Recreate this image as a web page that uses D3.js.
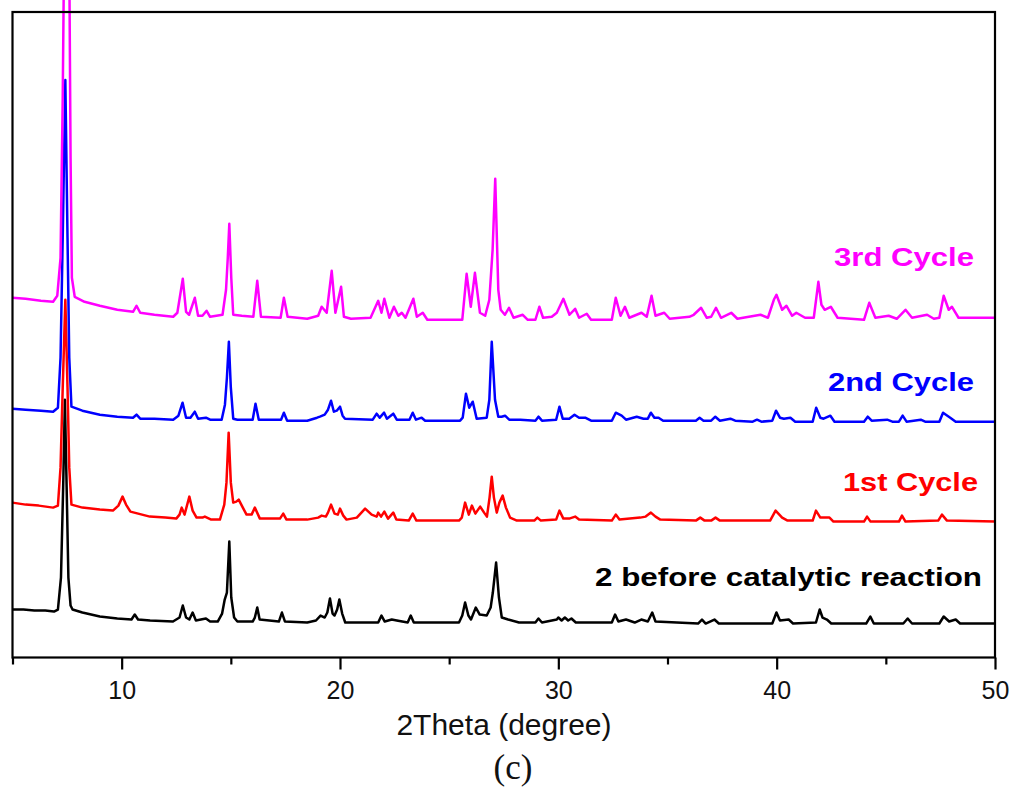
<!DOCTYPE html>
<html>
<head>
<meta charset="utf-8">
<script src="https://cdn.jsdelivr.net/npm/d3@7"></script>
<style>
  html, body { margin: 0; padding: 0; background: #fff; }
  svg { display: block; }
</style>
</head>
<body>
<svg id="chart" width="1013" height="791"></svg>
<script>
// XRD patterns: [2θ (degree), stacked intensity (a.u.)]
const pattern2 = [
  [5.0,48],[5.5,48],[6.0,47],[6.5,47],[6.9,46],[7.08,48],[7.22,80],[7.32,170],[7.40,258],[7.48,170],[7.56,80],[7.66,52],[7.75,48],
  [8.2,45],[9.0,41],[9.8,39],[10.45,38],[10.6,43],[10.75,38],[11.3,37],[12.35,36],[12.65,40],[12.8,52],[12.95,40],[13.1,38],
  [13.25,45],[13.4,37],[13.86,39],[14.05,36],[14.4,36],[14.6,44],[14.72,58],[14.82,65],[14.93,116],[15.02,60],[15.15,40],[15.3,36],
  [16.0,36],[16.1,40],[16.21,50],[16.32,38],[17.2,36],[17.34,45],[17.48,36],[18.5,35],[18.9,37],[19.11,42],[19.3,40],[19.42,45],
  [19.54,59],[19.66,44],[19.75,42],[19.87,48],[19.97,58],[20.1,44],[20.24,35],[21.0,35],[21.75,35],[21.9,42],[22.05,36],[22.37,38],
  [22.6,37],[23.1,35],[23.24,42],[23.38,35],[25.45,35],[25.6,42],[25.73,55],[25.88,42],[26.0,38],[26.22,50],[26.4,43],[26.72,42],
  [26.9,50],[27.0,65],[27.15,95],[27.28,60],[27.41,40],[27.7,38],[28.2,35],[28.95,35],[29.09,39],[29.25,35],[29.93,38],[30.0,40],
  [30.15,37],[30.3,40],[30.45,37],[30.6,39],[30.8,35],[32.45,35],[32.6,43],[32.75,36],[33.1,38],[33.5,35],[33.8,38],[34.1,36],
  [34.3,45],[34.45,36],[36.4,34],[36.58,38],[36.75,34],[37.15,38],[37.35,34],[39.8,34],[39.99,45],[40.15,37],[40.55,38],[40.75,34],
  [41.8,35],[41.97,48],[42.1,40],[42.3,38],[42.5,34],[44.1,34],[44.29,41],[44.45,34],[45.8,34],[46.0,39],[46.2,34],[47.45,34],
  [47.65,41],[47.9,36],[48.2,38],[48.4,34],[50.0,34]
];

const pattern1st = [
  [5.0,155],[5.6,153],[6.2,152],[6.86,150],[7.08,152],[7.2,190],[7.3,270],[7.42,358],[7.52,270],[7.6,190],[7.7,153],[8.2,150],
  [9.0,148],[9.6,147],[9.85,152],[10.04,161],[10.2,153],[10.4,146],[11.29,141],[12.0,140],[12.5,139],[12.65,143],[12.75,150],
  [12.88,143],[13.1,161],[13.25,147],[13.43,140],[13.7,140],[13.81,141],[14.1,138],[14.5,138],[14.7,153],[14.8,175],[14.9,225],
  [15.0,175],[15.11,155],[15.25,156],[15.36,158],[15.55,150],[15.72,143],[15.95,143],[16.1,150],[16.33,139],[17.25,139],[17.4,144],
  [17.55,138],[18.5,138],[19.0,140],[19.16,142],[19.35,141],[19.45,145],[19.59,153],[19.75,144],[19.9,143],[20.0,149],[20.15,142],
  [20.3,138],[20.77,140],[21.15,149],[21.45,143],[21.68,141],[21.75,145],[21.88,141],[22.03,146],[22.2,139],[22.44,145],[22.58,138],
  [23.15,137],[23.33,144],[23.5,137],[25.45,137],[25.58,140],[25.73,155],[25.9,143],[26.04,152],[26.2,144],[26.42,151],[26.6,145],
  [26.73,141],[26.85,160],[26.95,181],[27.05,160],[27.18,145],[27.3,155],[27.45,162],[27.6,150],[27.79,140],[28.1,137],[28.9,137],
  [29.04,140],[29.2,137],[29.9,138],[30.05,147],[30.23,139],[30.5,139],[30.77,141],[30.95,138],[32.45,137],[32.63,143],[32.8,138],
  [33.75,140],[34.0,141],[34.24,145],[34.45,141],[34.67,138],[36.3,137],[36.5,140],[36.7,137],[37.0,137],[37.2,140],[37.4,137],
  [39.7,137],[39.95,147],[40.25,140],[40.5,137],[41.65,137],[41.8,147],[42.0,140],[42.42,140],[42.6,136],[44.0,136],[44.14,141],
  [44.3,136],[45.6,136],[45.74,142],[45.9,136],[47.4,137],[47.57,143],[47.8,137],[50.0,136]
];

const pattern2nd = [
  [5.0,249],[5.6,248],[6.3,247],[6.86,246],[7.08,250],[7.2,300],[7.3,420],[7.42,578],[7.52,420],[7.6,300],[7.7,251],[8.2,247],
  [9.0,243],[9.8,241],[10.52,240],[10.68,243],[10.85,239],[11.5,239],[12.36,238],[12.6,242],[12.79,255],[12.95,240],[13.15,240],
  [13.35,246],[13.5,239],[13.86,240],[14.05,238],[14.58,238],[14.73,253],[14.82,280],[14.91,316],[15.0,270],[15.11,239],[15.3,238],
  [16.0,238],[16.13,254],[16.28,238],[17.3,238],[17.43,245],[17.58,237],[18.5,237],[18.95,240],[19.08,241],[19.3,243],[19.45,248],
  [19.59,257],[19.72,246],[19.85,247],[20.0,251],[20.12,242],[20.23,239],[21.5,238],[21.68,244],[21.82,240],[22.02,245],[22.15,239],
  [22.44,244],[22.6,238],[23.18,238],[23.33,245],[23.48,238],[23.74,240],[23.9,237],[25.5,237],[25.62,240],[25.77,264],[25.92,250],
  [26.08,256],[26.26,239],[26.72,240],[26.84,258],[26.95,316],[27.1,258],[27.25,241],[27.4,241],[27.56,242],[27.75,238],[28.26,238],
  [28.95,237],[29.09,241],[29.25,237],[29.9,238],[30.05,251],[30.2,239],[30.5,239],[30.74,243],[30.95,240],[31.23,240],[31.5,237],
  [32.45,237],[32.63,245],[32.9,242],[33.1,238],[33.59,241],[33.9,239],[34.1,239],[34.24,245],[34.4,240],[34.59,240],[34.8,237],
  [36.3,237],[36.47,240],[36.65,237],[37.0,237],[37.19,241],[37.4,237],[37.88,239],[38.1,237],[38.9,236],[39.1,238],[39.3,236],
  [39.8,237],[39.97,247],[40.15,240],[40.33,239],[40.63,240],[40.85,236],[41.65,236],[41.81,250],[42.0,240],[42.15,239],[42.46,242],
  [42.65,236],[44.0,236],[44.17,241],[44.35,237],[45.06,238],[45.3,236],[45.6,236],[45.77,242],[45.95,236],[46.6,238],[46.8,236],
  [47.45,236],[47.62,245],[47.95,240],[48.2,236],[50.0,236]
];

const pattern3rd = [
  [5.0,360],[5.6,359],[6.3,357],[6.86,356],[7.05,362],[7.2,400],[7.3,560],[7.36,700],[7.42,820],[7.54,820],[7.6,700],[7.66,500],
  [7.72,380],[7.85,361],[8.3,356],[9.0,352],[9.8,348],[10.52,346],[10.68,352],[10.85,345],[11.5,343],[12.36,341],[12.55,345],
  [12.8,379],[12.95,346],[13.09,343],[13.35,360],[13.5,342],[13.7,342],[13.89,347],[14.05,341],[14.62,343],[14.78,368],[14.86,400],
  [14.93,434],[15.02,380],[15.11,343],[15.5,342],[16.03,341],[16.21,377],[16.38,341],[17.28,340],[17.43,360],[17.6,341],[18.5,339],
  [19.0,342],[19.16,351],[19.39,345],[19.62,387],[19.79,345],[20.05,371],[20.18,341],[20.5,339],[21.4,340],[21.75,357],[21.9,345],
  [22.03,359],[22.26,340],[22.47,351],[22.67,342],[22.83,345],[23.0,340],[23.36,359],[23.52,341],[23.79,345],[24.0,338],[25.6,338],
  [25.8,384],[25.99,351],[26.18,385],[26.41,345],[26.65,342],[26.84,358],[26.99,408],[27.11,479],[27.25,368],[27.36,348],[27.55,343],
  [27.74,350],[27.95,340],[28.37,343],[28.6,338],[28.95,338],[29.13,351],[29.3,340],[29.7,341],[29.93,345],[30.23,359],[30.51,343],
  [30.77,349],[30.95,340],[31.3,344],[31.5,338],[32.45,338],[32.63,360],[32.85,342],[33.05,351],[33.25,340],[33.81,345],[34.05,341],
  [34.27,362],[34.45,342],[34.85,345],[35.1,339],[36.0,341],[36.2,343],[36.54,350],[36.8,340],[37.0,341],[37.22,350],[37.45,340],
  [37.92,345],[38.2,339],[39.26,343],[39.6,340],[39.87,358],[39.99,363],[40.25,348],[40.45,352],[40.71,342],[40.9,345],[41.3,340],
  [41.7,340],[41.91,376],[42.05,353],[42.2,348],[42.48,351],[42.79,340],[44.0,338],[44.24,355],[44.52,340],[45.13,342],[45.5,339],
  [45.9,348],[46.2,340],[46.89,343],[47.2,339],[47.45,340],[47.65,362],[47.88,348],[48.03,351],[48.33,340],[50.0,340]
];

const seriesNames = ["2 before catalytic reaction", "1st Cycle", "2nd Cycle", "3rd Cycle"];
const seriesData = [pattern2, pattern1st, pattern2nd, pattern3rd];
const majorTicks = [10, 20, 30, 40, 50];
const minorTicks = [5, 15, 25, 35, 45];
const xTitle = "2Theta (degree)";
const panelLabel = "(c)";

// styling
const colors = ["#000000", "#ff0000", "#0000ff", "#ff00ff"];
const labelLayout = [
  { x: 595, y: 586, len: 387 },
  { x: 843, y: 491, len: 135 },
  { x: 828, y: 391, len: 146 },
  { x: 834, y: 266, len: 140 }
];

const svg = d3.select("#chart");
const plot = { left: 12.5, right: 995, top: 12, bottom: 657.5 };

const x = d3.scaleLinear().domain([5, 50]).range([plot.left, plot.right]);
const y = d3.scaleLinear().domain([0, 646]).range([plot.bottom, plot.top]);

const line = d3.line().x(d => x(d[0])).y(d => y(d[1]));

// patterns, bottom trace first
svg.append("g").selectAll("path")
  .data(seriesData)
  .join("path")
  .attr("d", line)
  .attr("fill", "none")
  .attr("stroke", (d, i) => colors[i])
  .attr("stroke-width", 2.5)
  .attr("stroke-linejoin", "round");

// frame
svg.append("rect")
  .attr("x", plot.left).attr("y", plot.top)
  .attr("width", plot.right - plot.left)
  .attr("height", plot.bottom - plot.top)
  .attr("fill", "none")
  .attr("stroke", "#000")
  .attr("stroke-width", 2.2);

// bottom axis: major ticks with labels, minor ticks without
const axisMajor = d3.axisBottom(x).tickValues(majorTicks).tickSize(12).tickSizeOuter(0).tickPadding(6).tickFormat(d3.format("d"));
const axisMinor = d3.axisBottom(x).tickValues(minorTicks).tickSize(7).tickSizeOuter(0).tickFormat("");

const gMaj = svg.append("g").attr("transform", `translate(0,${plot.bottom})`).call(axisMajor);
const gMin = svg.append("g").attr("transform", `translate(0,${plot.bottom})`).call(axisMinor);
[gMaj, gMin].forEach(g => {
  g.select(".domain").remove();
  g.selectAll(".tick line").attr("stroke", "#000").attr("stroke-width", 2.2);
});
gMaj.selectAll(".tick text")
  .attr("font-family", "'Liberation Sans', Arial, sans-serif")
  .attr("font-size", 25)
  .attr("fill", "#111")
  .attr("dy", null)
  .attr("y", 41);

// axis title and panel label
svg.append("text")
  .attr("x", 504).attr("y", 735)
  .attr("text-anchor", "middle")
  .attr("font-family", "'Liberation Sans', Arial, sans-serif")
  .attr("font-size", 30)
  .attr("fill", "#111")
  .text(xTitle);

svg.append("text")
  .attr("x", 513).attr("y", 779)
  .attr("text-anchor", "middle")
  .attr("font-family", "'Liberation Serif', 'Times New Roman', serif")
  .attr("font-size", 35)
  .attr("fill", "#111")
  .text(panelLabel);

// series labels
svg.append("g").selectAll("text")
  .data(seriesNames)
  .join("text")
  .attr("x", (d, i) => labelLayout[i].x)
  .attr("y", (d, i) => labelLayout[i].y)
  .attr("textLength", (d, i) => labelLayout[i].len)
  .attr("lengthAdjust", "spacingAndGlyphs")
  .attr("font-family", "'Liberation Sans', Arial, sans-serif")
  .attr("font-weight", "bold")
  .attr("font-size", 26)
  .attr("fill", (d, i) => colors[i])
  .text(d => d);
</script>
</body>
</html>
